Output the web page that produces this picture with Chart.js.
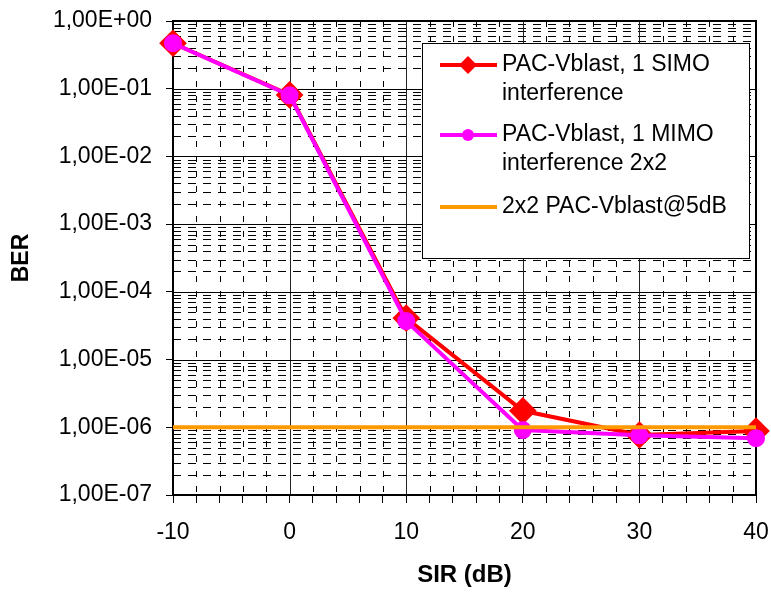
<!DOCTYPE html>
<html>
<head>
<meta charset="utf-8">
<script src="https://cdn.jsdelivr.net/npm/chart.js@4.4.0/dist/chart.umd.min.js"></script>
<style>
  html, body { margin: 0; padding: 0; background: #fff; }
  #wrap { width: 771px; height: 592px; }
</style>
</head>
<body>
<div id="wrap"><canvas id="myChart" width="771" height="592"></canvas></div>
<script>
// SIR values (dB)
var sir = [-10, 0, 10, 20, 30, 40];
// BER per series
var berSimo = [0.47, 0.081, 4.1e-5, 1.75e-6, 7.7e-7, 8.8e-7];
var berMimo = [0.47, 0.080, 3.7e-5, 9.1e-7, 7.6e-7, 6.9e-7];
var berRef  = [1.0e-6, 1.0e-6, 1.0e-6, 1.0e-6, 1.0e-6, 1.0e-6];

var seriesNames = [
    ['PAC-Vblast, 1 SIMO', 'interference'],
    ['PAC-Vblast, 1 MIMO', 'interference 2x2'],
    ['2x2 PAC-Vblast@5dB']
];
var yTicks = [1e-7, 1e-6, 1e-5, 1e-4, 1e-3, 1e-2, 1e-1, 1];
var xTicks = [-10, 0, 10, 20, 30, 40];

var FONT = "'Liberation Sans', Arial, sans-serif";

function fmtExp(v) {
    var e = Math.round(Math.log10(v));
    var s = e < 0 ? '-' : '+';
    var a = Math.abs(e);
    return '1,00E' + s + (a < 10 ? '0' + a : a);
}

function toPoints(ys) {
    return sir.map(function(x, i) { return {x: x, y: ys[i]}; });
}

// grid + frame drawn under the lines, using the chart's scales
var gridPlugin = {
    id: 'excelGrid',
    beforeDatasetsDraw: function(chart) {
        var ctx = chart.ctx, a = chart.chartArea;
        var xs = chart.scales.x, ys = chart.scales.y;
        ctx.save();
        ctx.lineWidth = 1;
        ctx.strokeStyle = '#000';
        // minor horizontal
        ctx.setLineDash([8, 7]);
        for (var e = -7; e < 0; e++) {
            for (var k = 2; k <= 9; k++) {
                var py = Math.round(ys.getPixelForValue(k * Math.pow(10, e))) + 0.5;
                ctx.beginPath(); ctx.moveTo(a.left, py); ctx.lineTo(a.right, py); ctx.stroke();
            }
        }
        // minor vertical
        ctx.setLineDash([6, 9]);
        for (var v = -8; v < 40; v += 2) {
            if (v % 10 === 0) continue;
            var px = Math.round(xs.getPixelForValue(v)) + 0.5;
            ctx.beginPath(); ctx.moveTo(px, a.top); ctx.lineTo(px, a.bottom); ctx.stroke();
        }
        ctx.setLineDash([]);
        // major
        ctx.strokeStyle = '#222';
        xTicks.forEach(function(v) {
            var px = Math.round(xs.getPixelForValue(v)) + 0.5;
            ctx.beginPath(); ctx.moveTo(px, a.top); ctx.lineTo(px, a.bottom); ctx.stroke();
        });
        ctx.strokeStyle = '#000';
        yTicks.forEach(function(v) {
            var py = Math.round(ys.getPixelForValue(v)) + 0.5;
            ctx.beginPath(); ctx.moveTo(a.left, py); ctx.lineTo(a.right, py); ctx.stroke();
        });
        ctx.lineWidth = 2;
        ctx.strokeRect(a.left, a.top, a.right - a.left, a.bottom - a.top);
        ctx.restore();
    }
};

// legend box with two-line labels
var legendPlugin = {
    id: 'boxLegend',
    afterDatasetsDraw: function(chart) {
        var ctx = chart.ctx;
        var bx = 422, by = 43, bw = 327, bh = 215;
        ctx.save();
        ctx.fillStyle = '#fff';
        ctx.fillRect(bx, by, bw, bh);
        ctx.strokeStyle = '#000';
        ctx.lineWidth = 1;
        ctx.strokeRect(bx + 0.5, by + 0.5, bw, bh);
        ctx.font = '23px ' + FONT;
        ctx.textBaseline = 'middle';
        var rowsY = [65, 135, 207];
        var order = [0, 1, 2];
        order.forEach(function(idx, r) {
            var ds = chart.data.datasets.find(function(d) { return d.key === idx; });
            var y = rowsY[r];
            ctx.strokeStyle = ds.borderColor;
            ctx.lineWidth = ds.borderWidth;
            ctx.beginPath(); ctx.moveTo(440, y); ctx.lineTo(497, y); ctx.stroke();
            if (ds.pointRadius > 0) {
                ctx.fillStyle = ds.pointBackgroundColor;
                ctx.beginPath();
                if (ds.pointStyle === 'rectRot') {
                    var s = 9;
                    ctx.moveTo(468, y - s); ctx.lineTo(468 + s, y); ctx.lineTo(468, y + s); ctx.lineTo(468 - s, y);
                    ctx.closePath();
                } else {
                    ctx.arc(468, y, 6, 0, Math.PI * 2);
                }
                ctx.fill();
            }
            ctx.fillStyle = '#000';
            seriesNames[idx].forEach(function(line, j) {
                ctx.fillText(line, 502, y + j * 29);
            });
        });
        ctx.restore();
    }
};

new Chart('myChart', {
    type: 'line',
    data: {
        datasets: [{
            key: 2,
            data: toPoints(berRef),
            borderColor: '#ff9900',
            backgroundColor: '#ff9900',
            borderWidth: 4,
            pointRadius: 0,
            clip: false,
            order: 1
        }, {
            key: 1,
            data: toPoints(berMimo),
            borderColor: '#ff00ff',
            backgroundColor: '#ff00ff',
            pointBackgroundColor: '#ff00ff',
            pointBorderColor: '#ff00ff',
            borderWidth: 4,
            pointStyle: 'circle',
            pointRadius: 7,
            clip: false,
            order: 2
        }, {
            key: 0,
            data: toPoints(berSimo),
            borderColor: '#ff0000',
            backgroundColor: '#ff0000',
            pointBackgroundColor: '#ff0000',
            pointBorderColor: '#ff0000',
            borderWidth: 4,
            pointStyle: 'rectRot',
            pointRadius: 11,
            clip: false,
            order: 3
        }]
    },
    options: {
        responsive: false,
        animation: false,
        events: [],
        layout: { padding: { left: 0, top: 21, right: 15, bottom: 0 } },
        plugins: {
            legend: { display: false },
            tooltip: { enabled: false }
        },
        elements: { line: { tension: 0 } },
        scales: {
            x: {
                type: 'linear',
                min: -10,
                max: 40,
                afterFit: function(scale) {
                    scale.height = 97;
                    scale.paddingLeft = 0;
                    scale.paddingRight = 0;
                },
                afterBuildTicks: function(scale) {
                    var t = [];
                    for (var v = -10; v <= 40; v += 2) t.push({value: v});
                    scale.ticks = t;
                },
                ticks: {
                    autoSkip: false,
                    maxRotation: 0,
                    padding: 16,
                    color: '#000',
                    font: { family: FONT, size: 23 },
                    callback: function(v) { return xTicks.indexOf(v) >= 0 ? String(v) : ''; }
                },
                grid: { drawOnChartArea: false, color: '#000', tickLength: 8 },
                border: { color: '#000', width: 2 },
                title: {
                    display: true,
                    text: 'SIR (dB)',
                    color: '#000',
                    font: { family: FONT, size: 24, weight: 'bold' },
                    padding: { top: 0, bottom: 2 }
                }
            },
            y: {
                type: 'logarithmic',
                min: 1e-7,
                max: 1,
                afterFit: function(scale) {
                    scale.width = 173;
                    scale.paddingTop = 0;
                    scale.paddingBottom = 0;
                },
                afterBuildTicks: function(scale) {
                    scale.ticks = yTicks.map(function(v) { return {value: v}; });
                },
                ticks: {
                    autoSkip: false,
                    padding: 14,
                    color: '#000',
                    font: { family: FONT, size: 23 },
                    callback: function(v) { return fmtExp(v); }
                },
                grid: { drawOnChartArea: false, color: '#000', tickLength: 7 },
                border: { color: '#000', width: 2 },
                title: {
                    display: true,
                    text: 'BER',
                    color: '#000',
                    font: { family: FONT, size: 23, weight: 'bold' },
                    padding: { top: 8, bottom: 0 }
                }
            }
        }
    },
    plugins: [gridPlugin, legendPlugin]
});
</script>
</body>
</html>
